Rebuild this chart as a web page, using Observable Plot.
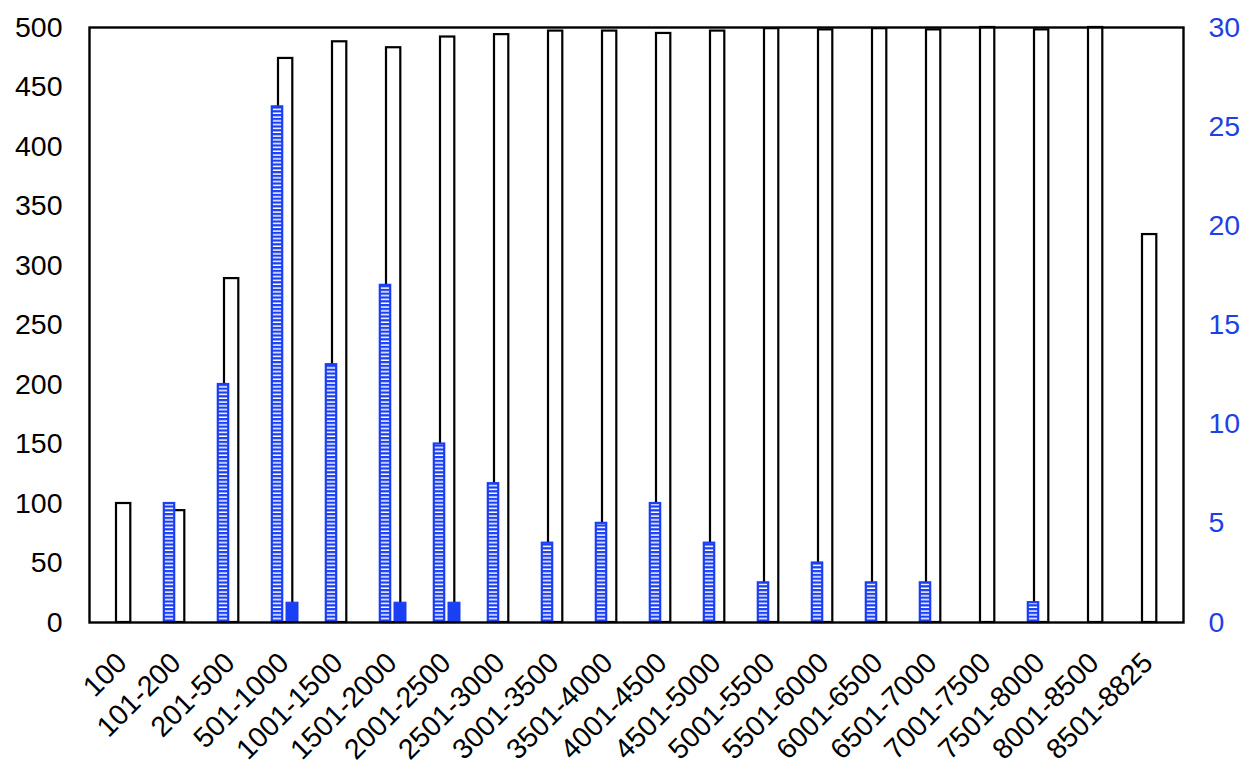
<!DOCTYPE html>
<html><head><meta charset="utf-8">
<script src="https://cdn.jsdelivr.net/npm/d3@7"></script>
<script src="https://cdn.jsdelivr.net/npm/@observablehq/plot@0.6"></script>
<style>body{margin:0;background:#fff} svg{display:block}</style>
</head><body><div id="chart"></div>
<script>
const categories = ["100","101-200","201-500","501-1000","1001-1500","1501-2000","2001-2500","2501-3000","3001-3500","3501-4000","4001-4500","4501-5000","5001-5500","5501-6000","6001-6500","6501-7000","7001-7500","7501-8000","8001-8500","8501-8825"];
const totals = [100,94,289,474,488,483,492,494,497,497,495,497,499,498,499,498,500,498,500,326];
const hatchedCounts = [0,6,12,26,13,17,9,7,4,5,6,4,2,3,2,2,0,1,0,0];
const solidCounts = [0,0,0,1,0,1,1,0,0,0,0,0,0,0,0,0,0,0,0,0];
const leftTicks = [0,50,100,150,200,250,300,350,400,450,500];
const rightTicks = [0,5,10,15,20,25,30];

const LEFT_MAX = 500, RIGHT_MAX = 30, k = LEFT_MAX / RIGHT_MAX;
const BLUE = "#1b3ff2", BLUE_TEXT = "#1f3fe6";
const FONT = "Liberation Sans, Arial, Helvetica, sans-serif";
const FS = 28.5;
const idx = categories.map((_, i) => i);

const plot = Plot.plot({
  width: 1256, height: 776,
  marginLeft: 89, marginRight: 73, marginTop: 27, marginBottom: 154,
  style: {fontFamily: FONT, fontSize: FS + "px", background: "#fff"},
  x: {type: "band", domain: categories, padding: 0, axis: null},
  y: {domain: [0, LEFT_MAX], axis: null},
  marks: [
    Plot.barY(idx, {x: i => categories[i], y: i => totals[i], fill: "white", stroke: "black", strokeWidth: 2.2, insetLeft: 20, insetRight: 19.7}),
    Plot.barY(idx.filter(i => hatchedCounts[i] > 0), {x: i => categories[i], y: i => hatchedCounts[i] * k, fill: "url(#hatch)", stroke: BLUE, strokeWidth: 2.2, insetLeft: 13.8, insetRight: 29.8}),
    Plot.barY(idx.filter(i => solidCounts[i] > 0), {x: i => categories[i], y: i => solidCounts[i] * k, fill: BLUE, stroke: BLUE, strokeWidth: 1, insetLeft: 28, insetRight: 14}),
    Plot.frame({stroke: "black", strokeWidth: 2.4}),
    Plot.axisY({anchor: "left", ticks: leftTicks, tickSize: 0, tickPadding: 27, fontSize: FS, color: "black"}),
    Plot.axisY({anchor: "right", ticks: rightTicks.map(v => v * k), tickFormat: d => String(Math.round(d / k)), tickSize: 0, tickPadding: 25, fontSize: FS, color: BLUE_TEXT}),
    Plot.text(categories, {x: d => d, text: d => d, frameAnchor: "bottom", rotate: -45, textAnchor: "end", lineAnchor: "bottom", dx: 5, dy: 42, fontSize: FS, fill: "black"})
  ]
});

const ns = "http://www.w3.org/2000/svg";
const defs = document.createElementNS(ns, "defs");
defs.innerHTML = `<pattern id="hatch" patternUnits="userSpaceOnUse" width="6" height="3.8"><rect width="6" height="3.8" fill="#fff"/><rect width="6" height="2.3" fill="${BLUE}"/></pattern>`;
plot.insertBefore(defs, plot.firstChild);
document.getElementById("chart").appendChild(plot);
</script>
</body></html>
